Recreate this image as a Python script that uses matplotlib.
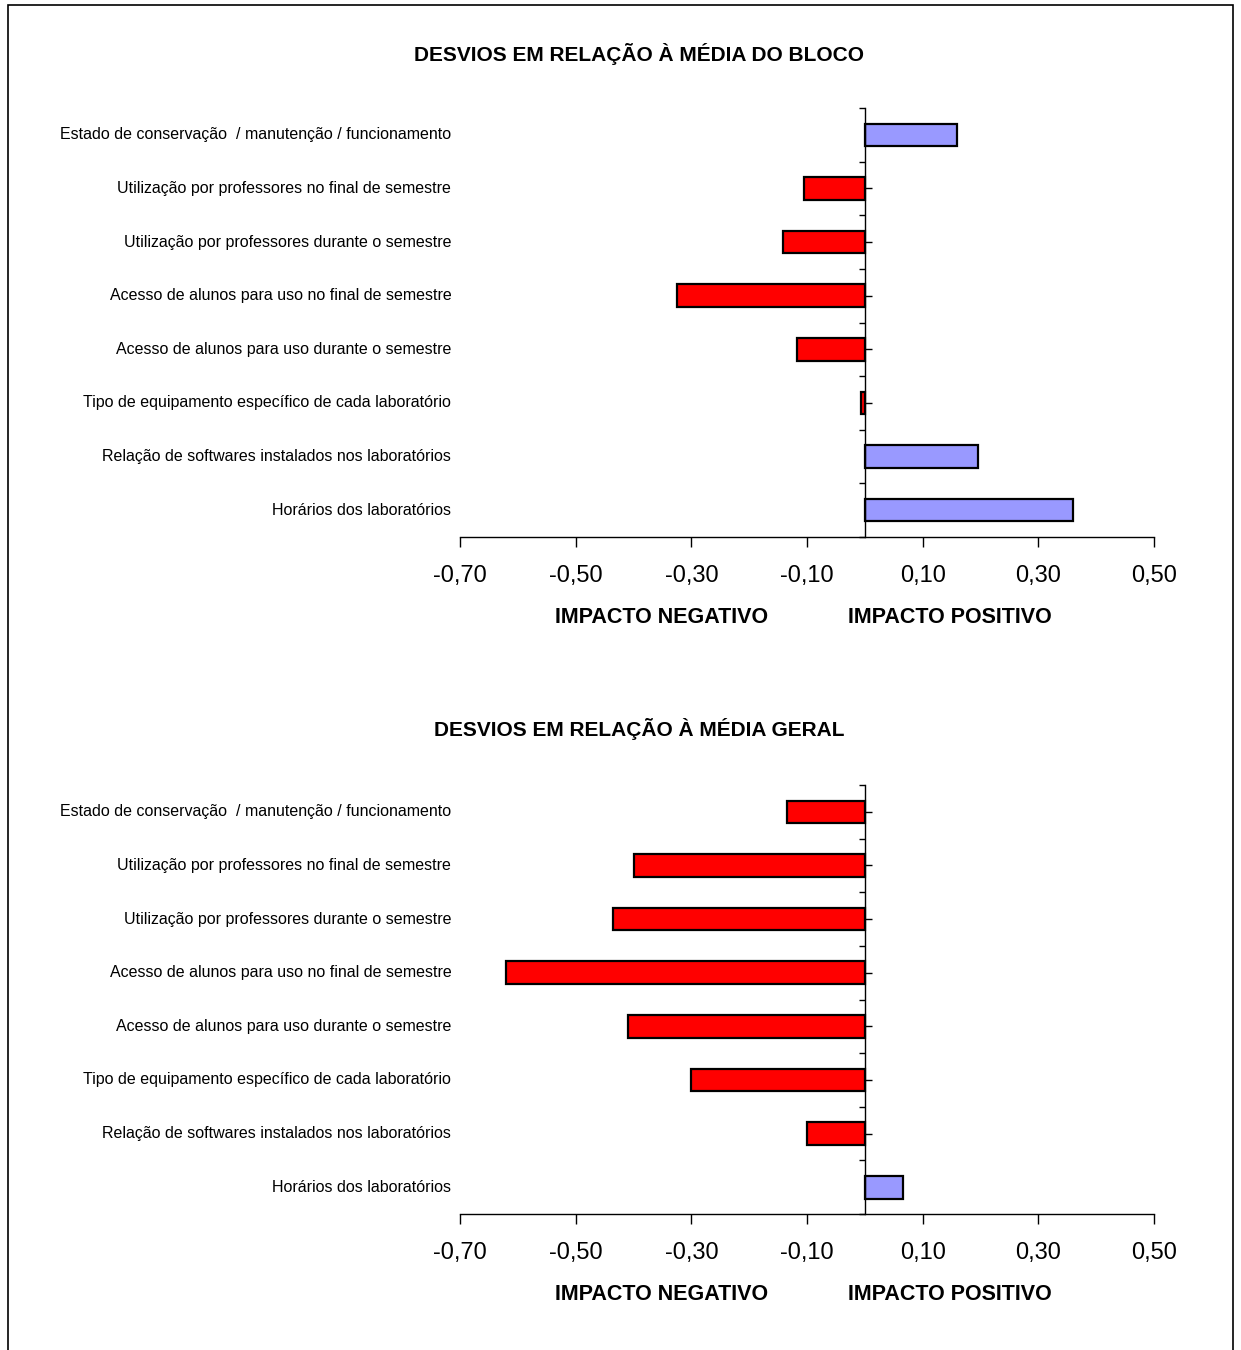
import numpy as np
from matplotlib import pyplot as plt
from matplotlib.patches import Rectangle
from matplotlib.ticker import FixedLocator

plt.rcParams['font.family'] = ['Liberation Sans', 'DejaVu Sans']

categories = [
    'Estado de conservação  / manutenção / funcionamento',
    'Utilização por professores no final de semestre',
    'Utilização por professores durante o semestre',
    'Acesso de alunos para uso no final de semestre',
    'Acesso de alunos para uso durante o semestre',
    'Tipo de equipamento específico de cada laboratório',
    'Relação de softwares instalados nos laboratórios',
    'Horários dos laboratórios',
]
desvio_bloco = [0.16, -0.105, -0.142, -0.325, -0.118, -0.007, 0.195, 0.36]
desvio_geral = [-0.135, -0.40, -0.435, -0.62, -0.41, -0.30, -0.10, 0.066]
titles = ['DESVIOS EM RELAÇÃO À MÉDIA DO BLOCO', 'DESVIOS EM RELAÇÃO À MÉDIA GERAL']
xticks = [-0.70, -0.50, -0.30, -0.10, 0.10, 0.30, 0.50]

fig = plt.figure(figsize=(12.41, 13.5), dpi=100)
#frame around the whole picture
fig.patches.append(Rectangle((0.0064, -0.1), 0.9872, 1.0963, transform=fig.transFigure,
                             fill=False, edgecolor='black', linewidth=1.2))

def draw_panel(rect, values, title, title_y):
    ax = fig.add_axes(rect)
    y = np.arange(len(categories))
    colors = ['#FF0000' if v < 0 else '#9999FF' for v in values]
    ax.barh(y, values, height=0.42, color=colors, edgecolor='black', linewidth=1.6, zorder=3)
    ax.set_xlim(-0.70, 0.50)
    ax.set_ylim(len(categories) - 0.5, -0.5)

    #y axis sits on zero
    for s in ['top', 'right']:
        ax.spines[s].set_visible(False)
    ax.spines['left'].set_position(('data', 0))
    ax.spines['left'].set_zorder(4)
    ax.spines['left'].set_linewidth(1.0)
    ax.spines['bottom'].set_linewidth(1.0)

    ax.set_xticks(xticks)
    ax.set_xticklabels([('%.2f' % t).replace('.', ',') for t in xticks])
    ax.tick_params(axis='x', direction='out', length=7, width=1, pad=13, labelsize=17)

    ax.yaxis.set_major_locator(FixedLocator(np.arange(len(categories) + 1) - 0.5))
    ax.yaxis.set_minor_locator(FixedLocator(y))
    ax.tick_params(axis='y', which='major', direction='out', length=4, width=1, labelleft=False)
    ax.tick_params(axis='y', which='minor', direction='in', length=5, width=1, labelleft=False)

    #category labels at the left of the plot area
    for yi, name in zip(y, categories):
        ax.text(-0.715, yi, name, ha='right', va='center', fontsize=11.5)

    ax.text(-0.351, -0.187, 'IMPACTO NEGATIVO', transform=ax.get_xaxis_transform(),
            ha='center', va='center', fontsize=15.5, fontweight='bold')
    ax.text(0.147, -0.187, 'IMPACTO POSITIVO', transform=ax.get_xaxis_transform(),
            ha='center', va='center', fontsize=15.5, fontweight='bold')
    fig.text(0.515, title_y, title, ha='center', va='center', fontsize=15, fontweight='bold')
    return ax

draw_panel([0.3707, 0.6022, 0.5592, 0.3178], desvio_bloco, titles[0], 1 - 54 / 1350)
draw_panel([0.3707, 0.1007, 0.5592, 0.3178], desvio_geral, titles[1], 1 - 729 / 1350)

plt.savefig('out.png', dpi=100)
